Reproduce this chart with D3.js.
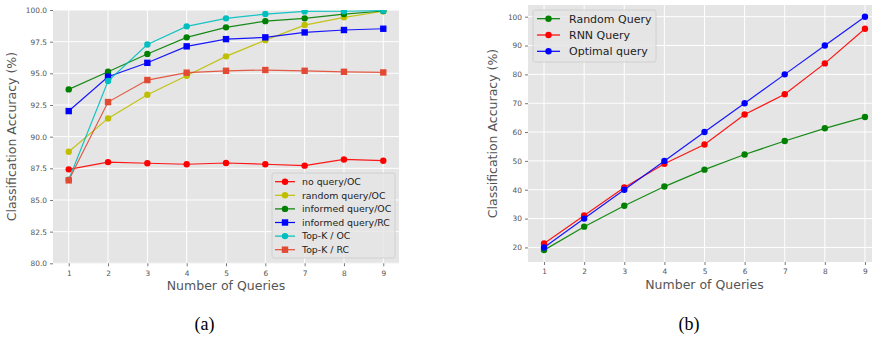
<!DOCTYPE html>
<html><head><meta charset="utf-8">
<script src="https://cdn.jsdelivr.net/npm/d3@7/dist/d3.min.js"></script>
<style>
body{margin:0;background:#fff;}
svg{display:block;font-family:"DejaVu Sans",sans-serif;}
</style></head><body>
<svg id="c" width="872" height="337"></svg>
<script>
const queries = [1,2,3,4,5,6,7,8,9];

// Chart (a)
const aNoQueryOC     = [87.42, 87.99, 87.9, 87.82, 87.92, 87.82, 87.71, 88.2, 88.1];
const aRandomOC      = [88.81, 91.44, 93.31, 94.81, 96.34, 97.62, 98.81, 99.42, 99.9];
const aInformedOC    = [93.73, 95.12, 96.52, 97.84, 98.63, 99.12, 99.34, 99.68, 99.92];
const aInformedRC    = [92.02, 94.73, 95.83, 97.13, 97.7, 97.84, 98.23, 98.42, 98.52];
const aTopKOC        = [86.6, 94.39, 97.28, 98.71, 99.34, 99.68, 99.89, 99.9, 99.95];
const aTopKRC        = [86.55, 92.73, 94.47, 95.05, 95.2, 95.26, 95.2, 95.12, 95.07];
const aYTicks = [80.0, 82.5, 85.0, 87.5, 90.0, 92.5, 95.0, 97.5, 100.0];

// Chart (b)
const bRandom  = [19.07, 27.2, 34.45, 41.1, 46.96, 52.2, 56.9, 61.3, 65.2];
const bRNN     = [21.4, 31.1, 40.8, 49.0, 55.7, 66.1, 73.1, 83.8, 95.8];
const bOptimal = [20, 30, 40, 50, 60, 70, 80, 90, 100];
const bYTicks = [20, 30, 40, 50, 60, 70, 80, 90, 100];

const seriesA = [
  {name:"no query/OC", values:aNoQueryOC, color:"#ff0000", marker:"circle"},
  {name:"random query/OC", values:aRandomOC, color:"#bfbf00", marker:"circle"},
  {name:"informed query/OC", values:aInformedOC, color:"#008000", marker:"circle"},
  {name:"informed query/RC", values:aInformedRC, color:"#0000ff", marker:"square"},
  {name:"Top-K / OC", values:aTopKOC, color:"#00bfbf", marker:"circle"},
  {name:"Top-K / RC", values:aTopKRC, color:"#e24a33", marker:"square"}
];
const seriesB = [
  {name:"Random Query", values:bRandom, color:"#008000", marker:"circle"},
  {name:"RNN Query", values:bRNN, color:"#ff0000", marker:"circle"},
  {name:"Optimal query", values:bOptimal, color:"#0000ff", marker:"circle"}
];

const svg = d3.select("#c");

function drawPanel(cfg){
  const g = svg.append("g");
  const x = d3.scaleLinear().domain([0.6, 9.4]).range([cfg.left, cfg.right]);
  const y = d3.scaleLinear().domain(cfg.yDomain).range([cfg.bottom, cfg.top]);
  const clipId = "clip"+cfg.id;
  svg.append("clipPath").attr("id", clipId).append("rect")
    .attr("x", cfg.left).attr("y", cfg.top).attr("width", cfg.right-cfg.left).attr("height", cfg.bottom-cfg.top);
  g.append("rect").attr("x", cfg.left).attr("y", cfg.top)
    .attr("width", cfg.right-cfg.left).attr("height", cfg.bottom-cfg.top).attr("fill", "#e5e5e5");
  const grid = g.append("g").attr("clip-path", `url(#${clipId})`);
  grid.selectAll(".vx").data(queries).enter().append("line")
    .attr("x1", d=>x(d)).attr("x2", d=>x(d)).attr("y1", cfg.top).attr("y2", cfg.bottom)
    .attr("stroke", "#fff").attr("stroke-width", 1);
  grid.selectAll(".hy").data(cfg.yTicks).enter().append("line")
    .attr("y1", d=>y(d)).attr("y2", d=>y(d)).attr("x1", cfg.left).attr("x2", cfg.right)
    .attr("stroke", "#fff").attr("stroke-width", 1);
  const xAxis = d3.axisBottom(x).tickValues(queries).tickSize(3).tickPadding(4).tickFormat(d3.format("d"));
  const yAxis = d3.axisLeft(y).tickValues(cfg.yTicks).tickSize(3).tickPadding(3).tickFormat(cfg.fmt);
  const ax = g.append("g").attr("transform", `translate(0,${cfg.bottom})`).call(xAxis);
  const ay = g.append("g").attr("transform", `translate(${cfg.left},0)`).call(yAxis);
  [ax, ay].forEach(a=>{
    a.attr("font-family", "DejaVu Sans");
    a.select(".domain").remove();
    a.selectAll("line").attr("stroke", "#555").attr("stroke-width", 0.8);
    a.selectAll("text").attr("fill", "#555").style("font-size", "7.4px");
  });
  const plot = g.append("g").attr("clip-path", `url(#${clipId})`);
  const line = d3.line().x((d,i)=>x(queries[i])).y(d=>y(d));
  cfg.series.forEach(s=>{
    plot.append("path").datum(s.values).attr("d", line).attr("fill", "none")
      .attr("stroke", s.color).attr("stroke-width", 1.2).attr("stroke-opacity", 0.9);
    drawMarkers(plot, s, s.values.map((v,i)=>[x(queries[i]), y(v)]), cfg.mr);
  });
  g.append("text").attr("x", (cfg.left+cfg.right)/2).attr("y", cfg.bottom+26.5)
    .attr("text-anchor", "middle").attr("fill", "#555").style("font-size", "12.5px").text("Number of Queries");
  g.append("text").attr("transform", `translate(${cfg.ylX},${(cfg.top+cfg.bottom)/2}) rotate(-90)`)
    .attr("text-anchor", "middle").attr("fill", "#555").style("font-size", "12.5px").text("Classification Accuracy (%)");
  const L = cfg.legend;
  const lg = g.append("g");
  lg.append("rect").attr("x", L.x).attr("y", L.y).attr("width", L.w).attr("height", L.h)
    .attr("rx", 2).attr("fill", "#e5e5e5").attr("fill-opacity", 0.8).attr("stroke", "#cccccc").attr("stroke-width", 0.8);
  cfg.series.forEach((s,i)=>{
    const cy = L.y + L.first + i*L.step;
    lg.append("line").attr("x1", L.x+L.lx1).attr("x2", L.x+L.lx2).attr("y1", cy).attr("y2", cy)
      .attr("stroke", s.color).attr("stroke-width", 1.2);
    drawMarkers(lg, s, [[L.x+(L.lx1+L.lx2)/2, cy]], cfg.mr);
    lg.append("text").attr("x", L.x+L.tx).attr("y", cy).attr("dy", "0.35em")
      .attr("fill", "#222").style("font-size", L.fs+"px").text(s.name);
  });
}

function drawMarkers(parent, s, pts, r){
  if (s.marker === "square"){
    parent.selectAll(null).data(pts).enter().append("rect")
      .attr("x", d=>d[0]-r).attr("y", d=>d[1]-r).attr("width", 2*r).attr("height", 2*r)
      .attr("fill", s.color);
  } else {
    parent.selectAll(null).data(pts).enter().append("circle")
      .attr("cx", d=>d[0]).attr("cy", d=>d[1]).attr("r", r).attr("fill", s.color);
  }
}

drawPanel({
  id:"a", left:53, right:399, top:10, bottom:263.3, yDomain:[80,100], yTicks:aYTicks,
  fmt:d3.format(".1f"), series:seriesA, mr:3.2, ylX:16,
  legend:{x:272, y:173, w:123, h:85, first:8.7, step:13.6, lx1:3, lx2:23, tx:30, fs:9.4}
});
drawPanel({
  id:"b", left:528, right:881, top:5, bottom:262, yDomain:[14.95,104.05], yTicks:bYTicks,
  fmt:d3.format("d"), series:seriesB, mr:3.2, ylX:497,
  legend:{x:533, y:10, w:123, h:52, first:8.7, step:16.3, lx1:4, lx2:27, tx:36, fs:11}
});

svg.append("text").attr("x", 204.5).attr("y", 330).attr("text-anchor", "middle")
  .style("font-family", "'Liberation Serif', serif").style("font-size", "18px").attr("fill", "#000").text("(a)");
svg.append("text").attr("x", 689).attr("y", 330).attr("text-anchor", "middle")
  .style("font-family", "'Liberation Serif', serif").style("font-size", "18px").attr("fill", "#000").text("(b)");
</script>
</body></html>
